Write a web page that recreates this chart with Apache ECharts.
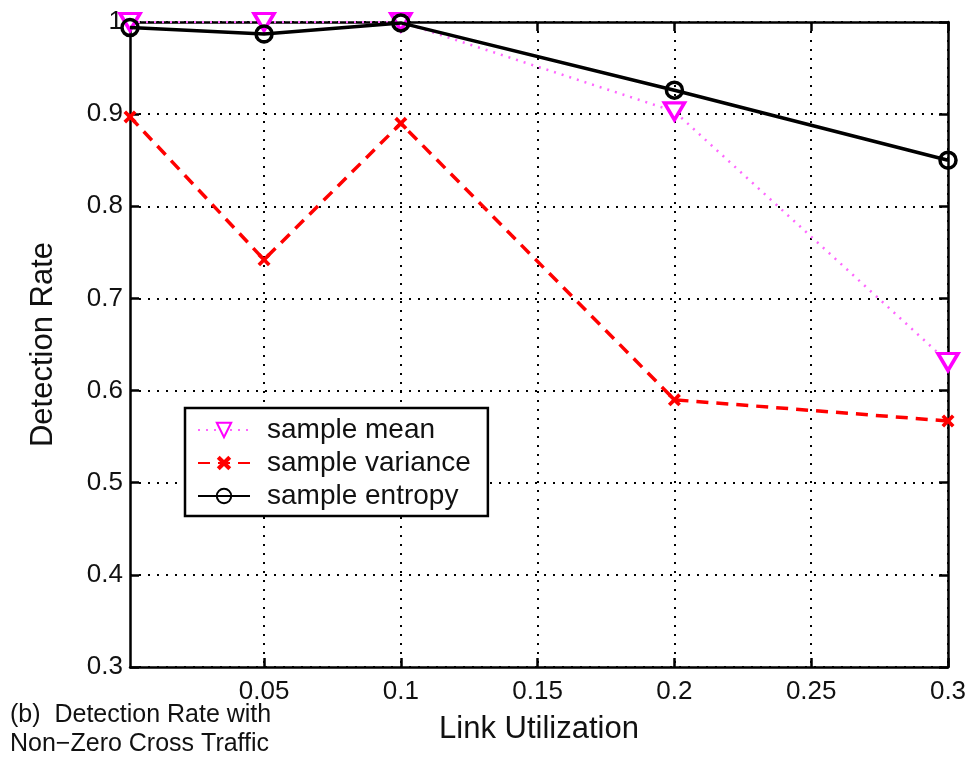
<!DOCTYPE html>
<html>
<head>
<meta charset="utf-8">
<script src="https://cdn.jsdelivr.net/npm/echarts@6/dist/echarts.min.js"></script>
<style>
  html, body { margin: 0; padding: 0; background: #fff; }
  #chart { width: 976px; height: 760px; }
</style>
</head>
<body>
<div id="chart"></div>
<script>
// link utilization values on the x axis
const utilization = [0.001, 0.05, 0.1, 0.2, 0.3];
const sampleMean = [1.0, 1.0, 1.0, 0.903, 0.631];
const sampleVariance = [0.897, 0.742, 0.890, 0.590, 0.567];
const sampleEntropy = [0.994, 0.987, 0.999, 0.926, 0.850];
const xTicks = [0.05, 0.1, 0.15, 0.2, 0.25, 0.3];

const font = 'Liberation Sans, Arial, sans-serif';
const pair = (ys) => ys.map((y, i) => [utilization[i], y]);
const crossPath = 'path://M0,2L2,0L5,3L8,0L10,2L7,5L10,8L8,10L5,7L2,10L0,8L3,5Z';

const chart = echarts.init(document.getElementById('chart'));

const dotted = { type: [2, 7], color: '#000', width: 2 };
const axisLine = { color: '#000', width: 2.5 };

chart.setOption({
  animation: false,
  backgroundColor: '#fff',
  grid: { left: 130, right: 28, top: 22, bottom: 93 },
  legend: {
    left: 185, top: 408,
    orient: 'vertical',
    itemWidth: 52, itemHeight: 18, itemGap: 5,
    padding: [8, 17, 6, 12],
    borderColor: '#000', borderWidth: 2.5, borderRadius: 0,
    backgroundColor: '#fff',
    textStyle: { fontFamily: font, fontSize: 28, lineHeight: 28, color: '#111', padding: [0, 0, 0, 12] },
    data: ['sample mean', 'sample variance', 'sample entropy']
  },
  xAxis: [{
    type: 'value', min: 0.001, max: 0.3,
    name: 'Link Utilization', nameLocation: 'middle', nameGap: 47,
    nameTextStyle: { fontFamily: font, fontSize: 31, color: '#111' },
    axisLine: { lineStyle: axisLine },
    axisTick: { inside: true, length: 9, customValues: xTicks, lineStyle: axisLine },
    axisLabel: { customValues: xTicks, fontFamily: font, fontSize: 26, color: '#111', margin: 12 },
    splitLine: { show: true, lineStyle: dotted }
  }, {
    type: 'value', min: 0.001, max: 0.3, position: 'top',
    axisLine: { lineStyle: axisLine },
    axisTick: { inside: true, length: 9, customValues: xTicks, lineStyle: axisLine },
    axisLabel: { show: false },
    splitLine: { show: false }
  }],
  yAxis: [{
    type: 'value', min: 0.3, max: 1, interval: 0.1,
    name: 'Detection Rate', nameLocation: 'middle', nameGap: 71,
    nameTextStyle: { fontFamily: font, fontSize: 31, color: '#111' },
    axisLine: { show: true, lineStyle: axisLine },
    axisTick: { show: true, inside: true, length: 9, lineStyle: axisLine },
    axisLabel: {
      fontFamily: font, fontSize: 26, color: '#111', margin: 7,
      formatter: (v) => (Math.abs(v - 1) < 1e-9 ? '1' : v.toFixed(1))
    },
    splitLine: { show: true, lineStyle: dotted }
  }, {
    type: 'value', min: 0.3, max: 1, interval: 0.1, position: 'right',
    axisLine: { show: true, lineStyle: axisLine },
    axisTick: { show: true, inside: true, length: 9, lineStyle: axisLine },
    axisLabel: { show: false },
    splitLine: { show: false }
  }],
  series: [
    {
      name: 'sample mean', type: 'line', data: pair(sampleMean),
      symbol: 'triangle', symbolRotate: 180, symbolSize: [20, 17],
      lineStyle: { color: '#ff66ff', width: 2.5, type: [2, 6] },
      itemStyle: { color: '#fff', borderColor: '#ff00ff', borderWidth: 3.5 },
      z: 3
    },
    {
      name: 'sample variance', type: 'line', data: pair(sampleVariance),
      symbol: crossPath, symbolSize: 13,
      lineStyle: { color: '#ff0000', width: 3.5, type: [12, 8] },
      itemStyle: { color: '#ff0000', borderWidth: 0 },
      z: 4
    },
    {
      name: 'sample entropy', type: 'line', data: pair(sampleEntropy),
      symbol: 'circle', symbolSize: 16,
      lineStyle: { color: '#000', width: 3.5 },
      itemStyle: { color: 'rgba(0,0,0,0)', borderColor: '#000', borderWidth: 3.5 },
      z: 5
    }
  ],
  graphic: [
    { type: 'text', left: 10, top: 703, style: { text: '(b)  Detection Rate with', font: '25px ' + font, fill: '#111' } },
    { type: 'text', left: 10, top: 732, style: { text: 'Non\u2212Zero Cross Traffic', font: '25px ' + font, fill: '#111' } }
  ]
});
</script>
</body>
</html>
